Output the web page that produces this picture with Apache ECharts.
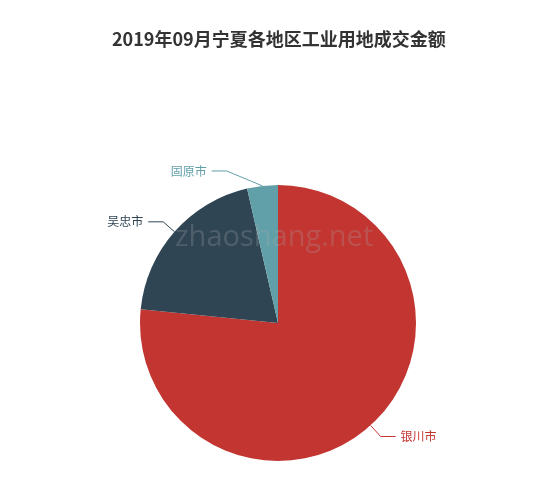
<!DOCTYPE html>
<html><head><meta charset="utf-8">
<script src="https://cdn.jsdelivr.net/npm/echarts@6/dist/echarts.min.js"></script>
<style>html,body{margin:0;padding:0;background:#fff}#c{width:550px;height:490px}</style>
</head><body><div id="c"></div>
<script>
const titleText = '2019年09月宁夏各地区工业用地成交金额';
const regions = ['银川市', '吴忠市', '固原市'];
const amounts = [76.6, 19.8, 3.6];
const colors = ['#c23531', '#2f4554', '#61a0a8'];

const chart = echarts.init(document.getElementById('c'));
chart.setOption({
  animation: false,
  color: colors,
  title: {
    text: titleText, left: 107, top: 25,
    textStyle: { fontSize: 18, fontWeight: 'bold', color: '#333', fontFamily: 'Noto Sans CJK SC' }
  },
  graphic: [{
    type: 'text', left: 175, top: 223, z: 100,
    style: { text: 'zhaoshang.net', fontSize: 29, fontFamily: 'Open Sans, sans-serif', fill: 'rgba(170,170,170,0.25)' }
  }],
  series: [{
    type: 'pie',
    center: [278, 323],
    radius: 138,
    startAngle: 90,
    clockwise: true,
    label: { fontSize: 12, fontFamily: 'Noto Sans CJK SC', color: 'inherit' },
    labelLine: { length: 15, length2: 15 },
    labelLayout: function (p) {
      if (p.dataIndex !== 2 || !p.labelLinePoints) return {};
      const pts = p.labelLinePoints;
      const dx = -34;
      return {
        dx: dx,
        labelLinePoints: [pts[0], [pts[1][0] + dx, pts[1][1]], [pts[2][0] + dx, pts[2][1]]]
      };
    },
    data: regions.map((n, i) => ({ name: n, value: amounts[i] }))
  }]
});
</script></body></html>
